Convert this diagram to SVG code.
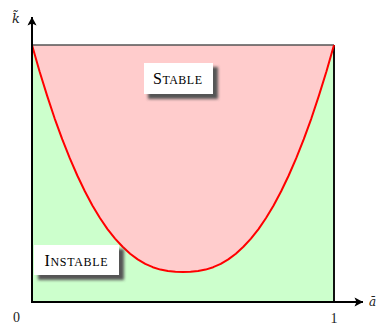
<svg xmlns="http://www.w3.org/2000/svg" width="380" height="327" viewBox="0 0 380 327">
<defs>
<style>
.lbl{font-family:"Liberation Serif","DejaVu Serif",serif;fill:#000}
.big{font-size:16px}
.sm{font-size:12px}
.num{font-family:"Liberation Serif","DejaVu Serif",serif;font-size:14px;fill:#222}
.axis{stroke:#000;stroke-width:2;fill:none}
.box{fill:#fff}
.shadow{fill:#555;filter:url(#blur)}
</style>
<filter id="blur" x="-20%" y="-30%" width="140%" height="160%"><feGaussianBlur stdDeviation="1.6"/></filter>
<marker id="arr" viewBox="-9 -5 10 10" refX="0" refY="0" markerWidth="10" markerHeight="10" markerUnits="userSpaceOnUse" orient="auto">
<path d="M0,0 C-2,-1 -5,-3 -8.5,-4.5 L-6.5,0 L-8.5,4.5 C-5,3 -2,1 0,0 Z" fill="#000"/>
</marker>
</defs>
<g id="regions">
<rect x="32" y="45" width="302" height="257" fill="#ccffcc"/>
<path id="stable-region" d="M32,45 L39.5,71.3 L47.1,95.6 L54.6,118.3 L62.2,139.2 L69.75,158.2 L77.3,175.5 L84.85,191.2 L92.4,205.5 L99.95,218 L107.5,229.1 L115.05,238.6 L122.6,246.8 L130.15,253.7 L137.7,259.4 L145.25,263.9 L152.8,267.2 L160.35,269.6 L167.9,271.1 L175.45,271.8 L183,272 L190.55,271.8 L198.1,271.1 L205.65,269.6 L213.2,267.2 L220.75,263.9 L228.3,259.4 L235.85,253.7 L243.4,246.8 L250.95,238.6 L258.5,229.1 L266.05,218 L273.6,205.5 L281.15,191.2 L288.7,175.5 L296.25,158.2 L303.8,139.2 L311.4,118.3 L318.9,95.6 L326.5,71.3 L334,45 Z" fill="#ffcccc"/>
</g>
<g id="connectors">
<line x1="32" y1="45" x2="334" y2="45" stroke="#555" stroke-width="1.3"/>
<line x1="334" y1="45" x2="334" y2="302" stroke="#111" stroke-width="2"/>
<path d="M32,45 L39.5,71.3 L47.1,95.6 L54.6,118.3 L62.2,139.2 L69.75,158.2 L77.3,175.5 L84.85,191.2 L92.4,205.5 L99.95,218 L107.5,229.1 L115.05,238.6 L122.6,246.8 L130.15,253.7 L137.7,259.4 L145.25,263.9 L152.8,267.2 L160.35,269.6 L167.9,271.1 L175.45,271.8 L183,272 L190.55,271.8 L198.1,271.1 L205.65,269.6 L213.2,267.2 L220.75,263.9 L228.3,259.4 L235.85,253.7 L243.4,246.8 L250.95,238.6 L258.5,229.1 L266.05,218 L273.6,205.5 L281.15,191.2 L288.7,175.5 L296.25,158.2 L303.8,139.2 L311.4,118.3 L318.9,95.6 L326.5,71.3 L334,45" fill="none" stroke="#ff0000" stroke-width="2" stroke-linejoin="round"/>
<line class="axis" x1="32" y1="303" x2="32" y2="17" marker-end="url(#arr)"/>
<line class="axis" x1="31" y1="302" x2="363" y2="302" marker-end="url(#arr)"/>
</g>
<g id="stable">
<rect class="shadow" x="148" y="67" width="70" height="32"/>
<rect class="box" x="144" y="63" width="69" height="31"/>
<text class="lbl" x="153" y="84" textLength="49" lengthAdjust="spacing"><tspan class="big">S</tspan><tspan class="sm">TABLE</tspan></text>
</g>
<g id="instable">
<rect class="shadow" x="38" y="249" width="86" height="31"/>
<rect class="box" x="34" y="245" width="85" height="30"/>
<text class="lbl" x="44.5" y="266" textLength="63" lengthAdjust="spacing"><tspan class="big">I</tspan><tspan class="sm">NSTABLE</tspan></text>
</g>
<g id="axis-labels">
<text x="12" y="23" font-family="DejaVu Serif, serif" font-style="italic" font-size="13" fill="#222">k̃</text>
<text x="369" y="306" font-family="DejaVu Serif, serif" font-style="italic" font-size="12" fill="#222">ā</text>
<text class="num" x="16.5" y="322" text-anchor="middle">0</text>
<text class="num" x="334" y="323" text-anchor="middle">1</text>
</g>
</svg>
